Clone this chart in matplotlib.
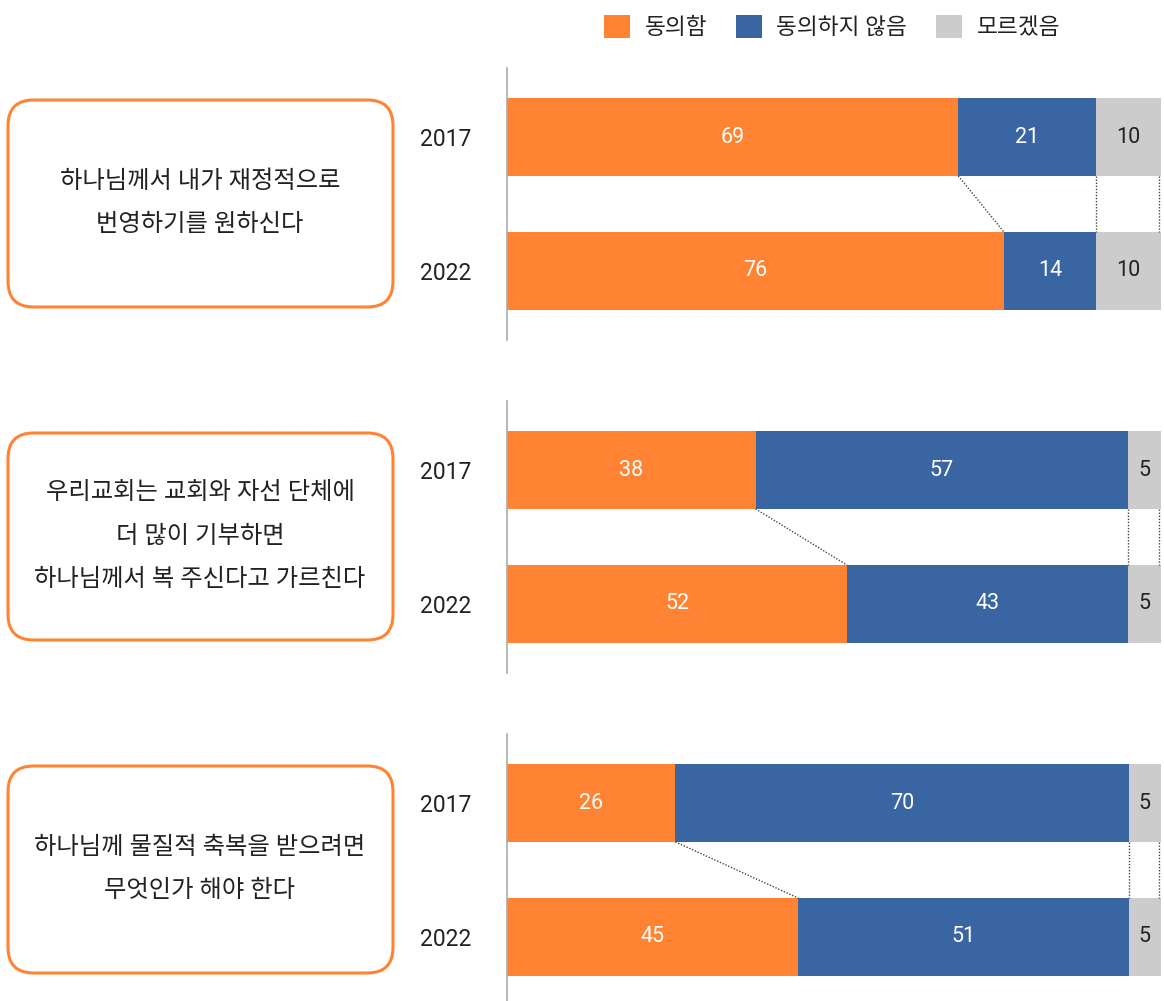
import matplotlib
matplotlib.use('Agg')
import matplotlib.pyplot as plt
from matplotlib.patches import Patch, FancyBboxPatch

plt.rcParams['font.family'] = ['Roboto', 'Noto Sans CJK KR', 'DejaVu Sans']

# data
questions = [
    '하나님께서 내가 재정적으로\n번영하기를 원하신다',
    '우리교회는 교회와 자선 단체에\n더 많이 기부하면\n하나님께서 복 주신다고 가르친다',
    '하나님께 물질적 축복을 받으려면\n무엇인가 해야 한다',
]
years = ['2017', '2022']
series = ['동의함', '동의하지 않음', '모르겠음']
agree = [[69, 76], [38, 52], [26, 45]]
disagree = [[21, 14], [57, 43], [70, 51]]
unsure = [[10, 10], [5, 5], [5, 5]]

colors = ['#FF8332', '#3966A2', '#CCCCCC']
label_colors = ['white', 'white', '#222222']

W, H = 1164, 1001
fig = plt.figure(figsize=(W / 100, H / 100), dpi=100)

bar_h = 0.58
for i, q in enumerate(questions):
    top = 68 + i * 333
    ax = fig.add_axes([507 / W, 1 - (top + 272) / H, 654 / W, 272 / H])
    rows = []
    for j in range(len(years)):
        vals = [agree[i][j], disagree[i][j], unsure[i][j]]
        tot = sum(vals)
        rows.append((vals, [v / tot * 100 for v in vals]))
    cums = []
    for j, (vals, shares) in enumerate(rows):
        left = 0
        c = []
        for k in range(3):
            ax.barh(j, shares[k], left=left, height=bar_h, color=colors[k], linewidth=0)
            ax.text(left + shares[k] / 2, j, str(vals[k]), ha='center', va='center',
                    fontsize=15.5, color=label_colors[k])
            left += shares[k]
            c.append(left)
        cums.append(c)
    for k in range(3):
        x0 = cums[0][k] - (0.3 if k == 2 else 0)
        x1 = cums[1][k] - (0.3 if k == 2 else 0)
        ax.plot([x0, x1], [bar_h / 2, 1 - bar_h / 2], color='#444444', lw=1,
                linestyle=(0, (1, 1.2)))
    ax.set_xlim(0, 100)
    ax.set_ylim(1.515, -0.515)
    ax.set_yticks(range(len(years)))
    ax.set_yticklabels(years, fontsize=16.5, color='#222222')
    ax.tick_params(axis='y', length=0, pad=26)
    ax.set_xticks([])
    for s in ['top', 'right', 'bottom']:
        ax.spines[s].set_visible(False)
    ax.spines['left'].set_color('#AAAAAA')
    ax.spines['left'].set_linewidth(1.2)

    # question box
    by0 = 100 + i * 333
    box = FancyBboxPatch((8 / W, 1 - (by0 + 207) / H), 385 / W, 207 / H,
                         boxstyle='round,pad=0,rounding_size=0.022',
                         transform=fig.transFigure, facecolor='white',
                         edgecolor='#FF8332', linewidth=2.2,
                         mutation_aspect=W / H)
    fig.patches.append(box)
    fig.text(200 / W, 1 - (by0 + 103) / H, q, ha='center', va='center',
             fontsize=17.5, color='#222222', linespacing=2.15)

handles = [Patch(facecolor=c, edgecolor='none') for c in colors]
fig.legend(handles, series, loc='center', bbox_to_anchor=(832 / W, 1 - 27 / H),
           ncol=3, frameon=False, fontsize=16.3, handlelength=1.15, handleheight=1.15,
           handletextpad=0.65, columnspacing=1.25, borderpad=0,
           labelcolor='#222222')

fig.savefig('out.png', dpi=100)
